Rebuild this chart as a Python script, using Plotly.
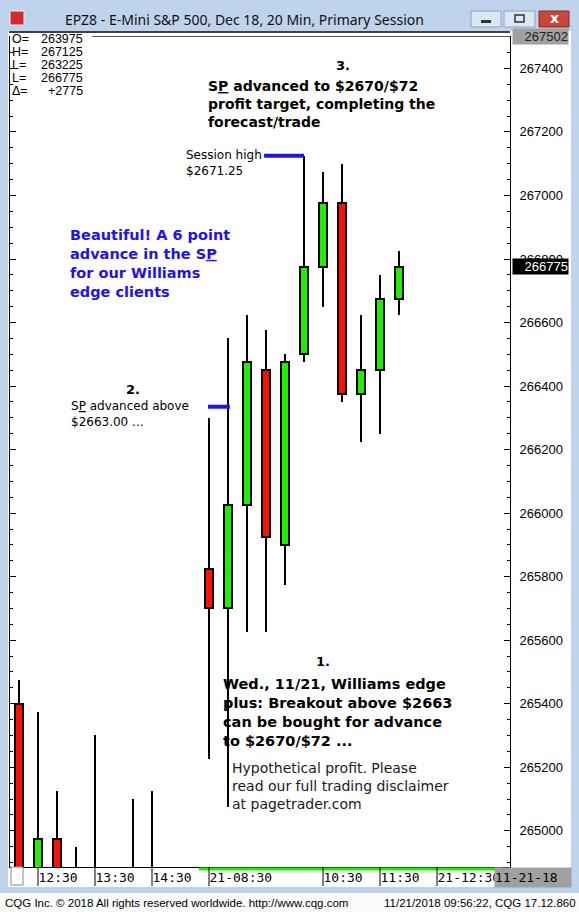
import plotly.graph_objects as go

# EPZ8 20 min bars, 11/20 11:50 -> 11/21 11:50 (prices shown x100 like the CQG window)
# None = bar sits completely below the visible price range
bar_idx = list(range(21))
opens = [265400, 264800, 264975, 264850, 264850, None, 264800, 264850, None, None,
         265825, 265700, 266025, 266450, 265900, 266500, 266775, 266975, 266375, 266450, 266675]
highs = [265475, 265375, 265125, 264950, 265300, None, 265100, 265125, None, None,
         266300, 266550, 266625, 266575, 266500, 267125, 267075, 267100, 266625, 266750, 266825]
lows = [264600, 264750, 264775, 264750, 264650, None, 264700, 264600, None, None,
        265225, 265075, 265625, 265625, 265775, 266475, 266650, 266350, 266225, 266250, 266625]
closes = [264650, 264975, 264825, 264800, 264700, None, 264850, 264700, None, None,
          265700, 266025, 266475, 265925, 266475, 266775, 266975, 266375, 266450, 266675, 266775]

tick_pos = [1, 4, 7, 10, 16, 19, 22]
tick_text = ["12:30", "13:30", "14:30", "21-08:30", "10:30", "11:30", "21-12:30"]

stat_names = ["O=", "H=", "L=", "L=", "\u0394="]
stat_values = ["263975", "267125", "263225", "266775", "+2775"]

axis_top = 267502
axis_bottom = 264886
last_price = 266775
session_high = max(h for h in highs if h is not None)
breakout_mark = 266335
breakout_bar = 11

W, H = 579, 912
ML, MR, MT, MB = 10, 69, 36, 45


def px(x):
    return (x - ML) / (W - ML - MR)


def py(y):
    return (H - MB - y) / (H - MT - MB)


GREEN = "#22ee00"
RED = "#ff1100"
BLUE = "#2211ee"

fig = go.Figure()

# wicks
wick_base = [l if l is not None else None for l in lows]
wick_len = [(h - l) if h is not None else None for h, l in zip(highs, lows)]
fig.add_trace(go.Bar(x=bar_idx, y=wick_len, base=wick_base, width=0.11,
                     marker=dict(color="black", line=dict(width=0)), hoverinfo="skip"))

# bodies
body_base, body_len, body_col = [], [], []
for o, c in zip(opens, closes):
    if o is None:
        body_base.append(None); body_len.append(None); body_col.append(GREEN)
        continue
    body_base.append(min(o, c))
    body_len.append(abs(c - o))
    body_col.append(GREEN if c >= o else RED)
fig.add_trace(go.Bar(x=bar_idx, y=body_len, base=body_base, width=0.45,
                     marker=dict(color=body_col, line=dict(color="black", width=2))))

shapes = [
    # window client area + footer
    dict(type="rect", xref="paper", yref="paper", x0=px(8), x1=px(571), y0=py(31), y1=py(887),
         fillcolor="white", line=dict(width=0), layer="below"),
    dict(type="rect", xref="paper", yref="paper", x0=px(0), x1=px(579), y0=py(893), y1=py(912),
         fillcolor="#fbfbfb", line=dict(width=0), layer="below"),
    dict(type="line", xref="paper", yref="paper", x0=px(9), x1=px(510), y0=py(32), y1=py(32),
         line=dict(color="black", width=1.5)),
    dict(type="line", xref="paper", yref="paper", x0=px(92), x1=px(510), y0=py(36.5), y1=py(36.5),
         line=dict(color="#555555", width=1)),
    # title bar icon + buttons
    dict(type="rect", xref="paper", yref="paper", x0=px(10), x1=px(24), y0=py(11), y1=py(25),
         fillcolor="#d42a2a", line=dict(color="#f0f0f0", width=1)),
    dict(type="rect", xref="paper", yref="paper", x0=px(471), x1=px(501), y0=py(11), y1=py(27),
         fillcolor="#dce7f5", line=dict(color="#8aa2c0", width=1)),
    dict(type="rect", xref="paper", yref="paper", x0=px(481), x1=px(491), y0=py(20), y1=py(23),
         fillcolor="#333333", line=dict(width=0)),
    dict(type="rect", xref="paper", yref="paper", x0=px(504), x1=px(535), y0=py(11), y1=py(27),
         fillcolor="#dce7f5", line=dict(color="#8aa2c0", width=1)),
    dict(type="rect", xref="paper", yref="paper", x0=px(515), x1=px(524), y0=py(15), y1=py(22),
         fillcolor="rgba(0,0,0,0)", line=dict(color="#333333", width=1.5)),
    dict(type="rect", xref="paper", yref="paper", x0=px(539), x1=px(569), y0=py(11), y1=py(27),
         fillcolor="#c9463a", line=dict(color="#8a2a22", width=1)),
    # session highlight under the time axis
    dict(type="line", xref="paper", yref="paper", x0=px(199), x1=px(502), y0=py(869), y1=py(869),
         line=dict(color=GREEN, width=3)),
    dict(type="rect", xref="paper", yref="paper", x0=px(11), x1=px(23), y0=py(867), y1=py(885),
         fillcolor="white", line=dict(color="#888888", width=1)),
    # annotation lines
    dict(type="line", xref="x", yref="y", x0=bar_idx[highs.index(session_high)] - 2.1,
         x1=bar_idx[highs.index(session_high)], y0=session_high, y1=session_high,
         line=dict(color=BLUE, width=4)),
    dict(type="line", xref="x", yref="y", x0=breakout_bar - 1.05, x1=breakout_bar + 0.1,
         y0=breakout_mark, y1=breakout_mark, line=dict(color=BLUE, width=4)),
]
# separators of the time axis labels
for t in tick_pos:
    shapes.append(dict(type="line", xref="x", yref="paper", x0=t, x1=t, y0=py(867), y1=py(886),
                       line=dict(color="black", width=1)))

anns = []


def note(text, x, y, size, color="black", family="DejaVu Sans", xanchor="left",
         yanchor="middle", bg=None):
    anns.append(dict(text=text, x=px(x), y=py(y), xref="paper", yref="paper",
                     xanchor=xanchor, yanchor=yanchor, showarrow=False, align="left",
                     font=dict(size=size, color=color, family=family),
                     bgcolor=bg, borderpad=0))


note("EPZ8 - E-Mini S&P 500, Dec 18, 20 Min, Primary Session", 64, 19, 14, "#111111", "Noto Sans")
note("<b>x</b>", 554, 18, 14, "white", "DejaVu Sans", xanchor="center")

for k, (n, v) in enumerate(zip(stat_names, stat_values)):
    note(n, 11, 39 + 13 * k, 12.5, "black", "Liberation Sans")
    note(v, 84, 39 + 13 * k, 12.5, "black", "Liberation Sans", xanchor="right")

note("<b>3.</b>", 343, 66, 13, xanchor="center")
note("<b>S<u>P</u> advanced to $2670/$72<br>profit target, completing the<br>forecast/trade</b>",
     207, 104, 14)
note("Session high<br>$2671.25", 185, 162.5, 12)
note("<b>Beautiful! A 6 point<br>advance in the S<u>P</u><br>for our Williams<br>edge clients</b>",
     69, 263, 14.5, BLUE)
note("<b>2.</b>", 133, 389, 13, xanchor="center")
note("S<u>P</u> advanced above<br>$2663.00 ...", 70, 413.5, 12)
note("<b>1.</b>", 323, 661, 13, xanchor="center")
note("<b>Wed., 11/21, Williams edge<br>plus: Breakout above $2663<br>can be bought for advance<br>to $2670/$72 ...</b>",
     222, 712, 14.5)
note("Hypothetical profit. Please<br>read our full trading disclaimer<br>at pagetrader.com",
     231, 786, 14, "#1a1a1a", "DejaVu Sans")

# price boxes on the right scale
anns.append(dict(text=str(axis_top), x=px(512), y=axis_top, xref="paper", yref="y",
                 xanchor="left", yanchor="middle", showarrow=False, width=55, align="right",
                 font=dict(size=13, color="#222222", family="Liberation Sans"),
                 bgcolor="#a0a0a0", borderpad=0))
anns.append(dict(text=str(last_price), x=px(512), y=last_price, xref="paper", yref="y",
                 xanchor="left", yanchor="middle", showarrow=False, width=55, align="right",
                 font=dict(size=13, color="white", family="Liberation Sans"),
                 bgcolor="black", borderpad=0))
anns.append(dict(text="11-21-18", x=px(494), y=py(877), xref="paper", yref="paper",
                 xanchor="left", yanchor="middle", showarrow=False, width=76, height=19, align="left",
                 font=dict(size=13, color="black", family="DejaVu Sans Mono"),
                 bgcolor="#a0a0a0", borderpad=0))

note("CQG Inc. \u00a9 2018 All rights reserved worldwide. http://www.cqg.com", 4, 903, 11.5,
     "black", "Liberation Sans")
note("11/21/2018 09:56:22, CQG 17.12.860", 577, 903, 11.5, "black", "Liberation Sans",
     xanchor="right")

fig.update_layout(
    width=W, height=H,
    margin=dict(l=ML, r=MR, t=MT, b=MB, pad=0, autoexpand=False),
    paper_bgcolor="#bfd4ec",
    plot_bgcolor="white",
    barmode="overlay",
    bargap=0,
    showlegend=False,
    shapes=shapes,
    annotations=anns,
)
fig.update_xaxes(
    range=[-0.4737, 25.842], showgrid=False, zeroline=False, automargin=False,
    showline=True, linecolor="black", linewidth=1,
    tickvals=tick_pos, ticktext=tick_text, ticks="", tickangle=0,
    ticklabelposition="outside right", ticklabelstandoff=-2,
    tickfont=dict(family="DejaVu Sans Mono", size=13, color="black"),
)
fig.update_yaxes(
    range=[axis_bottom, axis_top], side="right", showgrid=False, zeroline=False, automargin=False,
    showline=True, linecolor="black", linewidth=1, mirror="ticks",
    ticks="inside", ticklen=6, tickcolor="black", dtick=200, tick0=0, tickformat="d",
    minor=dict(dtick=50, ticks="inside", ticklen=3, tickcolor="black"),
    ticklabelstandoff=6,
    tickfont=dict(family="Liberation Sans", size=13, color="black"),
)

fig.write_html("out.html", config={"displayModeBar": False},
               post_script="document.body.style.margin='0';")
